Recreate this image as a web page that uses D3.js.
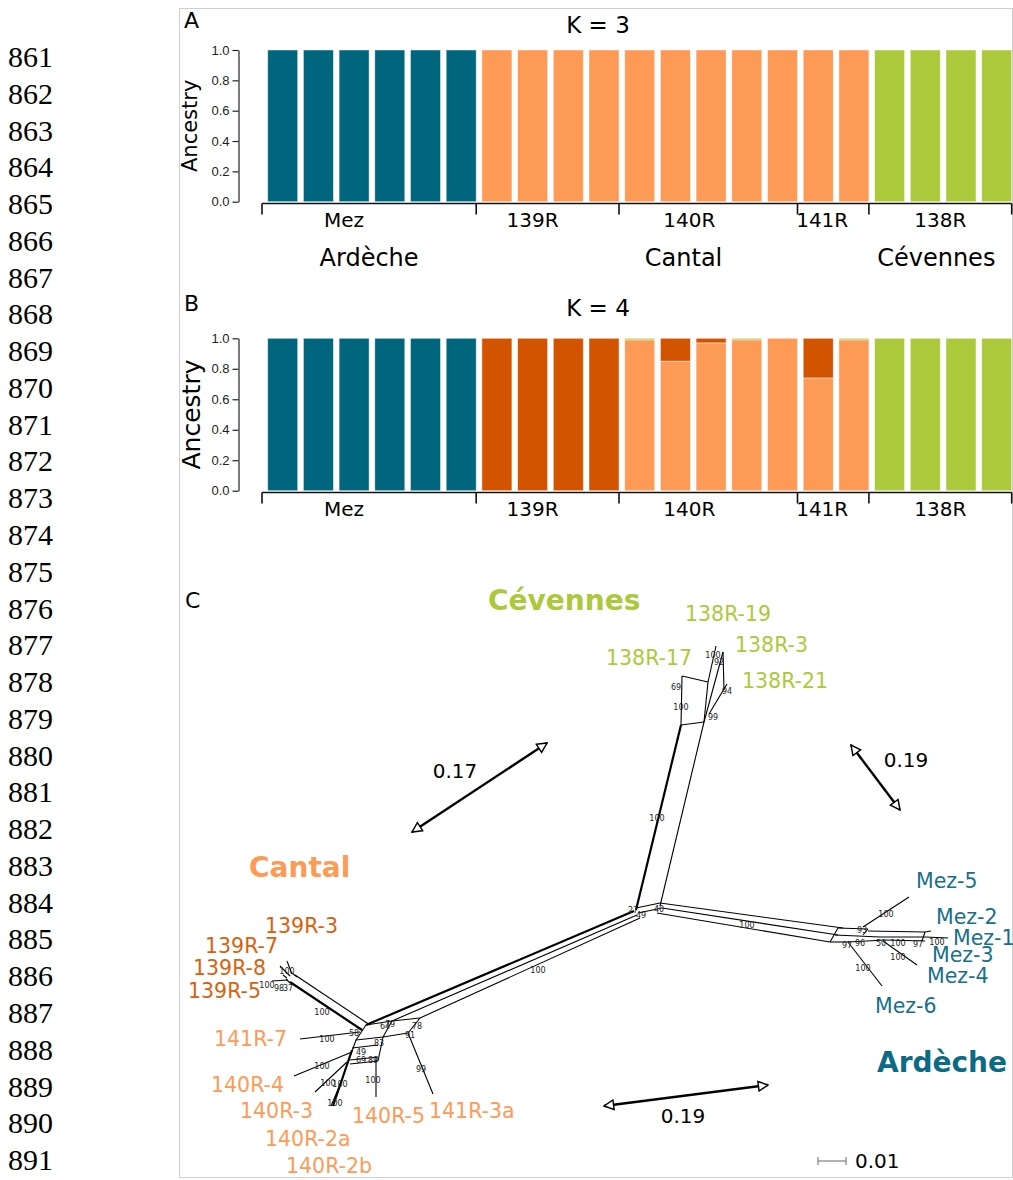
<!DOCTYPE html>
<html>
<head>
<meta charset="utf-8">
<script src="https://cdn.jsdelivr.net/npm/d3@7"></script>
<style>
  body { margin: 0; background: #fff; }
  svg { display: block; }
</style>
</head>
<body>
<script>
// ---- data ----
const lineNumbers = d3.range(861, 892);

const groups = ['Mez', '139R', '140R', '141R', '138R'];
const groupSizes = [6, 4, 5, 2, 4];
const regions = ['Ardèche', 'Cantal', 'Cévennes'];
const regionGroups = [[0, 0], [1, 3], [4, 4]];
const yTicks = [0, 0.2, 0.4, 0.6, 0.8, 1.0];

// K = 3 memberships per sample (21 samples, left to right)
const k3Teal   = [1,1,1,1,1,1, 0,0,0,0, 0,0,0,0,0, 0,0, 0,0,0,0];
const k3Orange = [0,0,0,0,0,0, 1,1,1,1, 1,1,1,1,1, 1,1, 0,0,0,0];
const k3Green  = [0,0,0,0,0,0, 0,0,0,0, 0,0,0,0,0, 0,0, 1,1,1,1];

// K = 4 memberships
const k4Teal   = [1,1,1,1,1,1, 0,0,0,0, 0,0,0,0,0, 0,0, 0,0,0,0];
const k4Light  = [0,0,0,0,0,0, 0,0,0,0, 0.99,0.85,0.97,0.99,1, 0.74,0.99, 0,0,0,0];
const k4Dark   = [0,0,0,0,0,0, 1,1,1,1, 0,0.15,0.03,0,0, 0.26,0, 0,0,0,0];
const k4Green  = [0,0,0,0,0,0, 0,0,0,0, 0.01,0,0,0.01,0, 0,0.01, 1,1,1,1];

// network (panel C), layout coordinates
const netEdges = [
  [660,906,704,722],[681,725,704,722],[681,725,682,676],[682,676,708,682],[708,682,704,722],
  [708,682,716,646],[704,722,723,652],[723,652,724,690],[709,714,727,684],
  [636,908,660,903],[638,913,662,908],
  [660,903,843,928],[662,908,838,935],[657,913,830,942],
  [838,928,868,929],[835,935,880,937],[830,942,848,942],[848,942,885,940],[838,928,830,942],
  [868,929,863,935],[863,927,909,897],[848,942,882,986],[868,931,925,932],[880,937,925,937],
  [885,940,925,941],[925,932,922,941],[925,937,948,938],[925,932,931,931],[883,941,917,965],
  [637,915,392,1021],[640,918,420,1018],
  [366,1025,392,1021],[392,1021,420,1018],[420,1018,408,1033],[408,1033,383,1037],[383,1037,392,1021],
  [366,1025,356,1040],[356,1040,383,1037],[383,1037,378,1061],[352,1048,378,1045],[356,1040,347,1065],
  [350,1060,378,1057],[350,1064,378,1061],[408,1033,433,1094],[376,1057,376,1097],
  [360,1032,300,1039],[352,1052,294,1076],[347,1062,315,1092],[342,1080,331,1106],
  [370,1025,295,975],[292,973,297,977],[286,979,290,983],[292,974,287,961],[290,976,280,966],
  [288,980,272,981],[287,978,283,975]
];
const netThickEdges = [
  [636,910,681,725],[634,911,366,1025],[352,1050,333,1106],[362,1030,290,982]
];
const bootstrap = [
  ['100',657,818],['100',681,707],['69',676,687],['99',713,717],['94',727,691],['100',713,655],['92',719,662],
  ['27',633,910],['49',641,915],['40',659,909],['100',747,925],
  ['93',862,930],['97',847,945],['96',860,943],['50',881,943],['100',898,943],['97',918,944],['100',937,942],
  ['100',886,914],['100',898,957],['100',863,968],
  ['100',538,970],['100',322,1012],['100',327,1039],['100',322,1066],['100',328,1083],['100',340,1084],
  ['100',335,1103],['100',373,1080],['99',421,1069],['100',287,971],['100',267,985],['98',279,988],
  ['37',288,988],['58',354,1033],['64',385,1026],['79',390,1024],['78',417,1026],['91',410,1035],
  ['83',379,1043],['49',361,1052],['69',361,1060],['89',373,1060]
];
// leaf labels: name, x, baseline, population
const leaves = [
  ['138R-19',685,621,'138R'],['138R-3',735,652,'138R'],['138R-17',606,665,'138R'],['138R-21',742,688,'138R'],
  ['Mez-5',916,888,'Mez'],['Mez-2',936,924,'Mez'],['Mez-1',953,945,'Mez'],['Mez-3',932,962,'Mez'],
  ['Mez-4',927,983,'Mez'],['Mez-6',875,1013,'Mez'],
  ['139R-3',265,933,'139R'],['139R-7',205,953,'139R'],['139R-8',193,975,'139R'],['139R-5',188,998,'139R'],
  ['141R-7',214,1046,'141R'],['140R-4',211,1092,'140R'],['140R-3',240,1118,'140R'],
  ['140R-2a',265,1146,'140R'],['140R-2b',286,1173,'140R'],['140R-5',352,1123,'140R'],['141R-3a',429,1118,'141R']
];
const netRegions = [['Cévennes',488,610],['Cantal',249,877],['Ardèche',877,1072]];
// distance arrows: x1,y1,x2,y2,label,labelX,labelY
const distArrows = [
  [412,832,547,743,'0.17',455,778],
  [851,745,900,810,'0.19',906,767],
  [604,1106,768,1085,'0.19',683,1123]
];
const scaleBarLen = 0.01;

// ---- layout tweaks ----
const groupLabelShift = [-25, -15, -19, -11, 0];
const regionLabelShift = [0, 11, -4];

// ---- colours ----
const teal = '#00667e', orange = '#fd9a56', dark = '#d35400', green = '#abc93a';
const popColor = { 'Mez': '#16708a', '139R': '#d9610c', '140R': '#fd9a56', '141R': '#fd9a56', '138R': '#abc93a' };

const W = 1013, H = 1180;
const svg = d3.select('body').append('svg').attr('width', W).attr('height', H);

// line numbers
svg.append('g').selectAll('text').data(lineNumbers).enter().append('text')
  .attr('x', 8).attr('y', (d, i) => 67 + i * 36.77)
  .style('font-family', '"Liberation Serif", serif').style('font-size', '30px')
  .text(d => d);

// figure border
svg.append('rect').attr('x', 179.5).attr('y', 8.5).attr('width', 833).attr('height', 1169)
  .attr('fill', 'none').attr('stroke', '#cfcfcf');

// sample ids and groups
const samples = [];
groups.forEach((g, gi) => { for (let k = 0; k < groupSizes[gi]; k++) samples.push(g + '_' + k); });

const x = d3.scaleBand().domain(samples).range([267.7, 1011.7]).paddingInner(0.16).paddingOuter(0);
const gap = x.step() - x.bandwidth();

function groupRange(gi) {
  const start = d3.sum(groupSizes.slice(0, gi));
  const first = samples[start], last = samples[start + groupSizes[gi] - 1];
  return [x(first) - gap, x(last) + x.bandwidth()];
}

function structurePanel(opt) {
  const y = d3.scaleLinear().domain([0, 1]).range([opt.y0, opt.y1]);
  const g = svg.append('g');

  const rows = samples.map((s, i) => {
    const r = { id: s };
    opt.keys.forEach((k, j) => r[k] = opt.values[j][i]);
    return r;
  });
  const stack = d3.stack().keys(opt.keys)(rows);
  g.selectAll('g.layer').data(stack).enter().append('g')
    .attr('fill', (d, i) => opt.colors[i])
    .selectAll('rect').data(d => d).enter().append('rect')
    .attr('x', d => x(d.data.id))
    .attr('width', x.bandwidth())
    .attr('y', d => y(d[1]))
    .attr('height', d => Math.max(0, y(d[0]) - y(d[1])))
    .attr('stroke', d => (d[1] - d[0]) > 0 ? 'rgba(255,255,255,0.55)' : 'none')
    .attr('stroke-width', 0.8);

  // y axis
  const ax = g.append('g').attr('transform', 'translate(238.5,0)')
    .call(d3.axisLeft(y).tickValues(yTicks).tickFormat(d3.format('.1f')).tickSize(6).tickSizeOuter(0).tickPadding(3));
  ax.select('.domain').attr('stroke', '#222').attr('stroke-width', 1.2);
  ax.selectAll('.tick line').attr('stroke', '#222').attr('stroke-width', 1.2);
  ax.selectAll('.tick text').style('font-family', '"Liberation Sans Narrow", "Liberation Sans", sans-serif')
    .style('font-size', '13px').attr('fill', '#222');

  g.append('text')
    .attr('transform', `translate(${opt.ancX},${(opt.y0 + opt.y1) / 2}) rotate(-90)`)
    .attr('text-anchor', 'middle')
    .style('font-family', '"DejaVu Sans", sans-serif').style('font-size', opt.ancSize + 'px')
    .text('Ancestry');

  // group bracket
  const by = opt.y0 + 1.8;
  g.append('line').attr('x1', groupRange(0)[0]).attr('x2', groupRange(groups.length - 1)[1])
    .attr('y1', by).attr('y2', by).attr('stroke', '#111').attr('stroke-width', 1.6);
  const tickXs = groups.map((gname, gi) => groupRange(gi)[0]).concat([groupRange(groups.length - 1)[1]]);
  g.selectAll('line.gt').data(tickXs).enter().append('line')
    .attr('x1', d => d).attr('x2', d => d).attr('y1', by).attr('y2', by + 11)
    .attr('stroke', '#111').attr('stroke-width', 1.6);
  g.selectAll('text.grp').data(groups).enter().append('text')
    .attr('x', (d, gi) => d3.mean(groupRange(gi)) + groupLabelShift[gi])
    .attr('y', by + 23)
    .attr('text-anchor', 'middle')
    .style('font-family', '"DejaVu Sans", sans-serif').style('font-size', '20px')
    .text(d => d);

  if (opt.regions) {
    g.selectAll('text.reg').data(regions).enter().append('text')
      .attr('x', (d, i) => (groupRange(regionGroups[i][0])[0] + groupRange(regionGroups[i][1])[1]) / 2 + regionLabelShift[i])
      .attr('y', by + 62)
      .attr('text-anchor', 'middle')
      .style('font-family', '"DejaVu Sans", sans-serif').style('font-size', '24px')
      .text(d => d);
  }

  g.append('text').attr('x', 184).attr('y', opt.letterY)
    .style('font-family', '"DejaVu Sans", sans-serif').style('font-size', '22px').text(opt.letter);
  g.append('text').attr('x', 598).attr('y', opt.titleY).attr('text-anchor', 'middle')
    .style('font-family', '"DejaVu Sans", sans-serif').style('font-size', '23px').text(opt.title);
}

structurePanel({
  y0: 201.7, y1: 50, keys: ['teal', 'orange', 'green'], values: [k3Teal, k3Orange, k3Green],
  colors: [teal, orange, green], regions: true, letter: 'A', letterY: 28, title: 'K = 3', titleY: 33,
  ancX: 197, ancSize: 21
});
structurePanel({
  y0: 490.7, y1: 338.3, keys: ['teal', 'light', 'dark', 'green'], values: [k4Teal, k4Light, k4Dark, k4Green],
  colors: [teal, orange, dark, green], regions: false, letter: 'B', letterY: 311, title: 'K = 4', titleY: 316,
  ancX: 200, ancSize: 25
});

// ---- panel C: network ----
const nx = d3.scaleLinear().domain([179, 1013]).range([179, 1013]);
const ny = d3.scaleLinear().domain([580, 1180]).range([580, 1180]);
const net = svg.append('g');

net.append('text').attr('x', 185).attr('y', 608)
  .style('font-family', '"DejaVu Sans", sans-serif').style('font-size', '22px').text('C');

net.selectAll('line.e').data(netEdges).enter().append('line')
  .attr('x1', d => nx(d[0])).attr('y1', d => ny(d[1])).attr('x2', d => nx(d[2])).attr('y2', d => ny(d[3]))
  .attr('stroke', '#000').attr('stroke-width', 1.1);
net.selectAll('line.t').data(netThickEdges).enter().append('line')
  .attr('x1', d => nx(d[0])).attr('y1', d => ny(d[1])).attr('x2', d => nx(d[2])).attr('y2', d => ny(d[3]))
  .attr('stroke', '#000').attr('stroke-width', 2.2);

net.selectAll('text.bs').data(bootstrap).enter().append('text')
  .attr('x', d => nx(d[1])).attr('y', d => ny(d[2]) + 3)
  .attr('text-anchor', 'middle')
  .style('font-family', '"DejaVu Sans", sans-serif').style('font-size', '8px').attr('fill', '#222')
  .text(d => d[0]);

net.selectAll('text.leaf').data(leaves).enter().append('text')
  .attr('x', d => nx(d[1])).attr('y', d => ny(d[2]))
  .style('font-family', '"DejaVu Sans", sans-serif').style('font-size', '20.5px')
  .attr('fill', d => popColor[d[3]])
  .text(d => d[0]);

const regColor = { 'Cévennes': '#abc93a', 'Cantal': '#fd9a56', 'Ardèche': '#0b6a84' };
net.selectAll('text.reg').data(netRegions).enter().append('text')
  .attr('x', d => nx(d[1])).attr('y', d => ny(d[2]))
  .style('font-family', '"DejaVu Sans", sans-serif').style('font-size', '28px').style('font-weight', 'bold')
  .attr('fill', d => regColor[d[0]])
  .text(d => d[0]);

// arrowheads
const defs = svg.append('defs');
defs.append('marker').attr('id', 'tri').attr('viewBox', '0 0 10 10')
  .attr('refX', 9).attr('refY', 5).attr('markerWidth', 5).attr('markerHeight', 5)
  .attr('orient', 'auto-start-reverse').attr('markerUnits', 'strokeWidth')
  .append('path').attr('d', 'M1,1 L9,5 L1,9 Z').attr('fill', '#fff').attr('stroke', '#000').attr('stroke-width', 1.2);

net.selectAll('line.arrow').data(distArrows).enter().append('line')
  .attr('x1', d => nx(d[0])).attr('y1', d => ny(d[1])).attr('x2', d => nx(d[2])).attr('y2', d => ny(d[3]))
  .attr('stroke', '#000').attr('stroke-width', 2.4)
  .attr('marker-start', 'url(#tri)').attr('marker-end', 'url(#tri)');
net.selectAll('text.arrow').data(distArrows).enter().append('text')
  .attr('x', d => nx(d[5])).attr('y', d => ny(d[6]))
  .attr('text-anchor', 'middle')
  .style('font-family', '"DejaVu Sans", sans-serif').style('font-size', '20px')
  .text(d => d[4]);

// scale bar: 0.01 substitutions per site
const pxPerUnit = 2800;
const sbx = 818, sby = 1161, sbw = scaleBarLen * pxPerUnit;
const sb = net.append('g').attr('stroke', '#888').attr('stroke-width', 1.3);
sb.append('line').attr('x1', sbx).attr('x2', sbx + sbw).attr('y1', sby).attr('y2', sby);
sb.append('line').attr('x1', sbx).attr('x2', sbx).attr('y1', sby - 4).attr('y2', sby + 4);
sb.append('line').attr('x1', sbx + sbw).attr('x2', sbx + sbw).attr('y1', sby - 4).attr('y2', sby + 4);
net.append('text').attr('x', 855).attr('y', 1168)
  .style('font-family', '"DejaVu Sans", sans-serif').style('font-size', '20px')
  .text(d3.format('.2f')(scaleBarLen));
</script>
</body>
</html>
